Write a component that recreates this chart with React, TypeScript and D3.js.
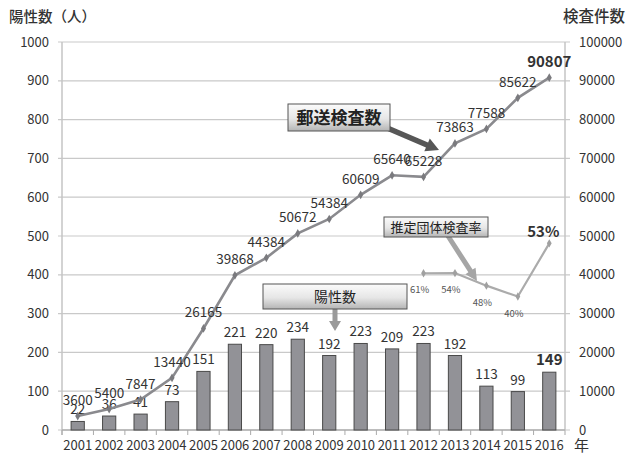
import React, { useEffect, useRef } from 'react';
import * as d3 from 'd3';

const WIDTH = 629;
const HEIGHT = 454;
const MARGIN = { top: 42, right: 64, bottom: 24, left: 62 };

const years = ['2001', '2002', '2003', '2004', '2005', '2006', '2007', '2008', '2009', '2010', '2011', '2012', '2013', '2014', '2015', '2016'];
const positives = [22, 36, 41, 73, 151, 221, 220, 234, 192, 223, 209, 223, 192, 113, 99, 149];
const tests = [3600, 5400, 7847, 13440, 26165, 39868, 44384, 50672, 54384, 60609, 65640, 65228, 73863, 77588, 85622, 90807];
const rateYears = ['2012', '2013', '2014', '2015', '2016'];
const rateLabels = ['61%', '54%', '48%', '40%', '53%'];
// rate line is drawn on the right-axis scale in the original
const ratePlotted = [40400, 40450, 37200, 34400, 48100];
const leftTicks = [0, 100, 200, 300, 400, 500, 600, 700, 800, 900, 1000];
const rightTicks = [0, 10000, 20000, 30000, 40000, 50000, 60000, 70000, 80000, 90000, 100000];

const FONT = '"Noto Sans CJK JP", "Noto Sans", sans-serif';

function arrowPath(x1: number, y1: number, x2: number, y2: number, shaft: number, head: number, headLen: number) {
  const dx = x2 - x1;
  const dy = y2 - y1;
  const len = Math.sqrt(dx * dx + dy * dy);
  const ux = dx / len;
  const uy = dy / len;
  const px = -uy;
  const py = ux;
  const bx = x2 - ux * headLen;
  const by = y2 - uy * headLen;
  const pts = [
    [x1 + px * shaft / 2, y1 + py * shaft / 2],
    [bx + px * shaft / 2, by + py * shaft / 2],
    [bx + px * head / 2, by + py * head / 2],
    [x2, y2],
    [bx - px * head / 2, by - py * head / 2],
    [bx - px * shaft / 2, by - py * shaft / 2],
    [x1 - px * shaft / 2, y1 - py * shaft / 2],
  ];
  return 'M' + pts.map((p) => p.join(',')).join('L') + 'Z';
}

const App = () => {
  const ref = useRef<SVGSVGElement>(null);

  useEffect(() => {
    if (!ref.current) return;
    const svg = d3.select(ref.current);
    svg.selectAll('*').remove();

    const x = d3
      .scaleBand()
      .domain(years)
      .range([MARGIN.left, WIDTH - MARGIN.right])
      .padding(0);
    const yL = d3.scaleLinear().domain([0, 1000]).range([HEIGHT - MARGIN.bottom, MARGIN.top]);
    const yR = d3.scaleLinear().domain([0, 100000]).range([HEIGHT - MARGIN.bottom, MARGIN.top]);
    const cx = (d: string) => x(d)! + x.bandwidth() / 2;
    const x0 = MARGIN.left;
    const x1 = WIDTH - MARGIN.right;

    const defs = svg.append('defs');
    const grad = defs
      .append('linearGradient')
      .attr('id', 'boxgrad')
      .attr('x1', 0)
      .attr('y1', 0)
      .attr('x2', 0)
      .attr('y2', 1);
    grad.append('stop').attr('offset', '0%').attr('stop-color', '#fbfbfb');
    grad.append('stop').attr('offset', '55%').attr('stop-color', '#e6e6e6');
    grad.append('stop').attr('offset', '100%').attr('stop-color', '#b4b4b4');

    svg.append('rect').attr('width', WIDTH).attr('height', HEIGHT).attr('fill', '#fff');

    // grid lines
    svg
      .append('g')
      .selectAll('line')
      .data(leftTicks)
      .enter()
      .append('line')
      .attr('x1', x0 - 4)
      .attr('x2', x1 + 5)
      .attr('y1', (d) => yL(d))
      .attr('y2', (d) => yL(d))
      .attr('stroke', '#c9c9c9')
      .attr('stroke-width', 1.2);

    // axis lines
    svg.append('line').attr('x1', x0).attr('x2', x0).attr('y1', yL(1000)).attr('y2', yL(0) + 5).attr('stroke', '#c4c4c4').attr('stroke-width', 1.5);
    svg.append('line').attr('x1', x1).attr('x2', x1).attr('y1', yL(1000)).attr('y2', yL(0) + 5).attr('stroke', '#c4c4c4').attr('stroke-width', 1.5);
    svg.append('line').attr('x1', x0).attr('x2', x1).attr('y1', yL(0)).attr('y2', yL(0)).attr('stroke', '#b0b0b0').attr('stroke-width', 1.5);

    // x ticks
    svg
      .append('g')
      .selectAll('line')
      .data(years)
      .enter()
      .append('line')
      .attr('x1', (d) => x(d)!)
      .attr('x2', (d) => x(d)!)
      .attr('y1', yL(0))
      .attr('y2', yL(0) + 5)
      .attr('stroke', '#aaa');

    // left tick labels
    svg
      .append('g')
      .selectAll('text')
      .data(leftTicks)
      .enter()
      .append('text')
      .attr('x', x0 - 13)
      .attr('y', (d) => yL(d))
      .attr('dy', '0.35em')
      .attr('text-anchor', 'end')
      .style('font-family', FONT)
      .style('font-size', '13px')
      .attr('fill', '#333')
      .text((d) => d);

    // right tick labels
    svg
      .append('g')
      .selectAll('text')
      .data(rightTicks)
      .enter()
      .append('text')
      .attr('x', x1 + 14)
      .attr('y', (d) => yR(d))
      .attr('dy', '0.35em')
      .attr('text-anchor', 'start')
      .style('font-family', FONT)
      .style('font-size', '13px')
      .attr('fill', '#333')
      .text((d) => d);

    // year labels
    svg
      .append('g')
      .selectAll('text')
      .data(years)
      .enter()
      .append('text')
      .attr('x', (d) => cx(d))
      .attr('y', 450)
      .attr('text-anchor', 'middle')
      .style('font-family', FONT)
      .style('font-size', '13px')
      .attr('fill', '#333')
      .text((d) => d);

    // titles
    svg.append('text').attr('x', 9).attr('y', 22).style('font-family', FONT).style('font-size', '14.5px').style('font-weight', '500').attr('fill', '#333').text('陽性数（人）');
    svg.append('text').attr('x', 625).attr('y', 22).attr('text-anchor', 'end').style('font-family', FONT).style('font-size', '15.5px').style('font-weight', '500').attr('fill', '#333').text('検査件数');
    svg.append('text').attr('x', 574).attr('y', 451).style('font-family', FONT).style('font-size', '15px').attr('fill', '#333').text('年');

    // bars
    const bw = x.bandwidth() * 0.42;
    svg
      .append('g')
      .selectAll('rect')
      .data(positives)
      .enter()
      .append('rect')
      .attr('x', (_, i) => cx(years[i]) - bw / 2)
      .attr('y', (d) => yL(d))
      .attr('width', bw)
      .attr('height', (d) => yL(0) - yL(d))
      .attr('fill', '#929297')
      .attr('stroke', '#4a4a4a')
      .attr('stroke-width', 1);

    // bar labels
    svg
      .append('g')
      .selectAll('text')
      .data(positives)
      .enter()
      .append('text')
      .attr('x', (_, i) => cx(years[i]))
      .attr('y', (d) => yL(d) - 7)
      .attr('text-anchor', 'middle')
      .style('font-family', FONT)
      .style('font-size', (_, i) => (i === positives.length - 1 ? '15px' : '13.5px'))
      .style('font-weight', (_, i) => (i === positives.length - 1 ? '700' : '400'))
      .attr('fill', '#333')
      .text((d) => d);

    // tests line
    const line = d3
      .line<number>()
      .x((_, i) => cx(years[i]))
      .y((d) => yR(d));
    svg
      .append('path')
      .datum(tests)
      .attr('d', line)
      .attr('fill', 'none')
      .attr('stroke', '#8a8a8e')
      .attr('stroke-width', 2.6);
    svg
      .append('g')
      .selectAll('path')
      .data(tests)
      .enter()
      .append('path')
      .attr('d', d3.symbol(d3.symbolDiamond, 22))
      .attr('transform', (d, i) => `translate(${cx(years[i])},${yR(d)})`)
      .attr('fill', '#7a7a7e');
    svg
      .append('g')
      .selectAll('text')
      .data(tests)
      .enter()
      .append('text')
      .attr('x', (_, i) => cx(years[i]))
      .attr('y', (d) => yR(d) - 11)
      .attr('text-anchor', 'middle')
      .style('font-family', FONT)
      .style('font-size', (_, i) => (i === tests.length - 1 ? '15px' : '13.5px'))
      .style('font-weight', (_, i) => (i === tests.length - 1 ? '700' : '400'))
      .attr('fill', '#333')
      .text((d) => d);

    // rate line
    const rline = d3
      .line<number>()
      .x((_, i) => cx(rateYears[i]))
      .y((d) => yR(d));
    svg
      .append('path')
      .datum(ratePlotted)
      .attr('d', rline)
      .attr('fill', 'none')
      .attr('stroke', '#ababab')
      .attr('stroke-width', 2.2);
    svg
      .append('g')
      .selectAll('path')
      .data(ratePlotted)
      .enter()
      .append('path')
      .attr('d', d3.symbol(d3.symbolDiamond, 20))
      .attr('transform', (d, i) => `translate(${cx(rateYears[i])},${yR(d)})`)
      .attr('fill', '#a0a0a0');
    svg
      .append('g')
      .selectAll('text')
      .data(ratePlotted)
      .enter()
      .append('text')
      .attr('x', (_, i) => cx(rateYears[i]) - (i === 4 ? 6 : 4))
      .attr('y', (d, i) => (i === 4 ? yR(d) - 6 : yR(d) + 20))
      .attr('text-anchor', 'middle')
      .style('font-family', FONT)
      .style('font-size', (_, i) => (i === 4 ? '15px' : '9.5px'))
      .style('font-weight', (_, i) => (i === 4 ? '700' : '400'))
      .attr('fill', (_, i) => (i === 4 ? '#333' : '#555'))
      .text((_, i) => rateLabels[i]);

    // callouts
    const callout = (bx: number, by: number, w: number, h: number, label: string, size: number, weight: string) => {
      svg
        .append('rect')
        .attr('x', bx)
        .attr('y', by)
        .attr('width', w)
        .attr('height', h)
        .attr('fill', 'url(#boxgrad)')
        .attr('stroke', '#555')
        .attr('stroke-width', 1);
      svg
        .append('text')
        .attr('x', bx + w / 2)
        .attr('y', by + h / 2)
        .attr('dy', '0.36em')
        .attr('text-anchor', 'middle')
        .style('font-family', FONT)
        .style('font-size', `${size}px`)
        .style('font-weight', weight)
        .attr('fill', '#222')
        .text(label);
    };

    svg.append('path').attr('d', arrowPath(385, 127, 439, 150, 5.5, 14, 13)).attr('fill', '#575757');
    callout(288, 104, 102, 27, '郵送検査数', 17, '700');

    svg.append('path').attr('d', arrowPath(448, 236, 477, 281, 5, 12, 12)).attr('fill', '#a5a5a5');
    callout(384, 217, 104, 20, '推定団体検査率', 13, '400');

    svg.append('path').attr('d', arrowPath(335, 309, 335, 331, 5, 12, 10)).attr('fill', '#9a9a9a');
    callout(263, 284, 144, 25, '陽性数', 14, '400');
  }, []);

  return (
    <div style={{ position: 'absolute', left: 0, top: 0 }}>
      <svg ref={ref} width={WIDTH} height={HEIGHT} style={{ display: 'block' }} />
    </div>
  );
};

export default App;
